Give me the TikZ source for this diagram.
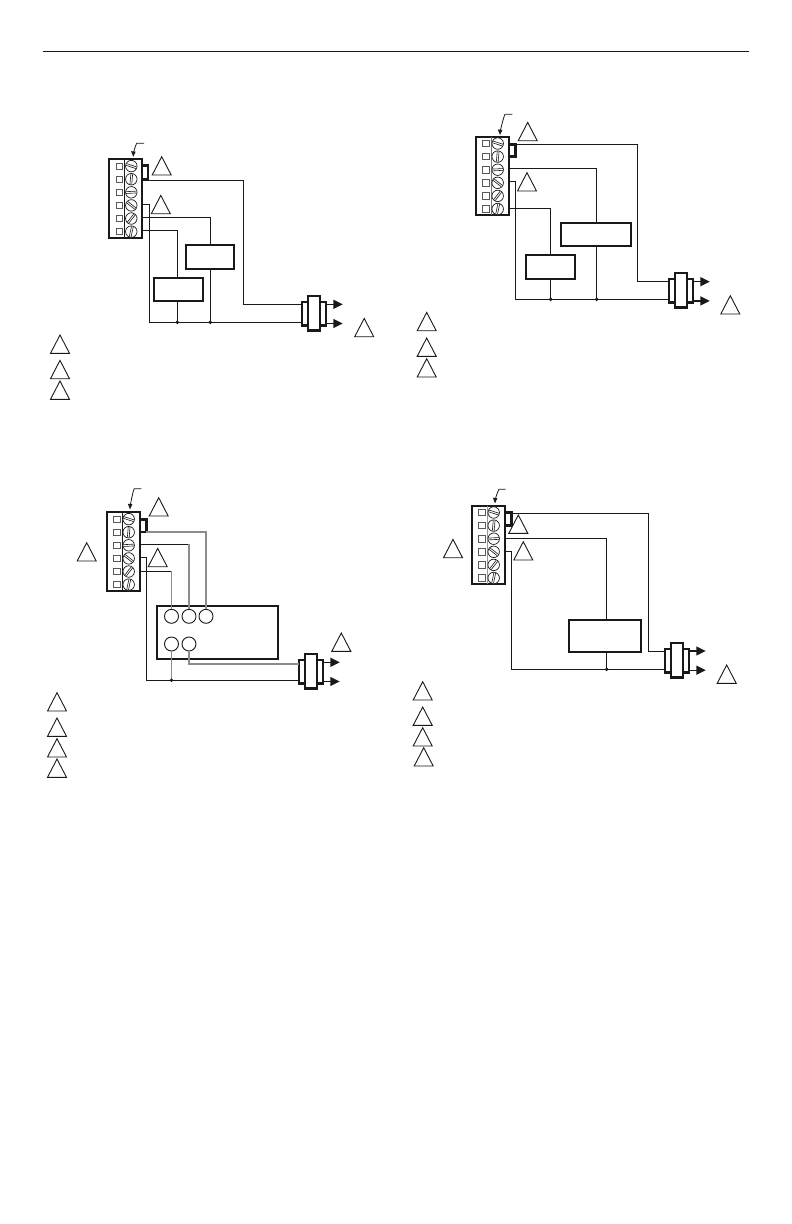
\documentclass[tikz,border=0pt]{standalone}
\usetikzlibrary{arrows.meta}
\definecolor{ink}{gray}{0.1}
\definecolor{wiregray}{gray}{0.55}
\tikzset{
  x=1bp,y=-1bp,
  thinline/.style={draw=ink,line width=1bp},
  grayline/.style={draw=wiregray,line width=1.1bp},
  heavy/.style={draw=ink,line width=2bp},
  plugline/.style={draw=ink,line width=2.4bp},
  jumper/.style={draw=ink,line width=2.6bp},
  relay/.style={draw=ink,line width=2bp,fill=white,rectangle,inner sep=0pt,outer sep=0pt,anchor=north west},
  smallsq/.style={draw=black!65,line width=0.8bp,fill=white,rectangle,inner sep=0pt,minimum size=6.4bp},
  screwhead/.style={draw=ink,line width=0.7bp,fill=white,circle,inner sep=0pt,minimum size=11.5bp},
  portcircle/.style={draw=ink,line width=0.9bp,fill=white,circle,inner sep=0pt,minimum size=14bp},
  junction/.style={fill=ink,circle,inner sep=0pt,minimum size=3.8bp},
  tri/.style={draw=ink,line width=0.9bp,line join=miter},
  tip/.style={fill=ink,draw=none},
}
% one screw: centre node name, x, y, slot angle
\newcommand{\screw}[4]{%
  \node[screwhead] (#1) at (#2,#3) {};
  \begin{scope}[shift={(#2,#3)},rotate=#4]
    \draw[ink,line width=0.6bp] (-5.2,-0.9) -- (5.2,-0.9) (-5.2,0.9) -- (5.2,0.9);
  \end{scope}}
% terminal block: prefix, x left, y top, colour of divider
\newcommand{\tblock}[4]{%
  \draw[heavy,fill=white] (#2,#3) rectangle ++(33,78.7);
  \draw[draw=#4,line width=0.9bp] (#2+15.3,#3) -- ++(0,78.7);
  \foreach \i/\ang in {0/-18,1/85,2/3,3/-38,4/52,5/78}{
    \pgfmathsetmacro{\sy}{#3+6.8+\i*13.1}
    \pgfmathsetmacro{\sx}{#2+22}
    \pgfmathsetmacro{\qx}{#2+10.2}
    \pgfmathtruncatemacro{\n}{\i+1}
    \node[smallsq] (#1q\n) at (\qx,\sy) {};
    \screw{#1s\n}{\sx}{\sy}{\ang}
  }}
% triangle callout: centre x, base y
\newcommand{\tricall}[2]{%
  \draw[tri] (#1-9.5,#2) -- (#1,#2-18.3) -- (#1+9.5,#2) -- cycle;}
% plug: prefix, left x, top y of inner, upper arrow y
\newcommand{\plug}[4]{%
  \draw[thinline,line width=1.3bp] (#2+24.3,#4) -- (#2+32,#4);
  \draw[thinline,line width=1.3bp] (#2+24.3,#4+19.2) -- (#2+32,#4+19.2);
  \draw[plugline,fill=white] (#2,#3) rectangle ++(24.3,23.6);
  \draw[plugline,fill=white] (#2+6,#3-6) rectangle ++(12.4,34.6);
  \coordinate (#1in1) at (#2,#3+2.6);
  \coordinate (#1in2) at (#2,#3+20.6);
  \fill[tip] (#2+31.6,#4-4.7) -- (#2+41,#4) -- (#2+31.6,#4+4.7) -- cycle;
  \fill[tip] (#2+31.6,#4+14.5) -- (#2+41,#4+19.2) -- (#2+31.6,#4+23.9) -- cycle;}
% pointer arrow above block
\newcommand{\pointer}[6]{%
  \draw[thinline,line width=0.8bp] (#1,#2) -- (#3,#2) .. controls (#3-1.6,#2+3) and (#5+0.8,#6-6) .. (#5,#6-3);
  \fill[tip] (#5,#6) -- (#5-2.2,#6-5.6) -- (#5+2.4,#6-5) -- cycle;}
\begin{document}
\begin{tikzpicture}
\useasboundingbox (0,0) rectangle (792,1224);
\fill[white] (0,0) rectangle (792,1224);
% header rule
\draw[ink,line width=1.2bp] (43,51.3) -- (749,51.3);

% ---------- Diagram 1 ----------
\tblock{a}{109.3}{159.3}{ink}
\draw[jumper] (142.3,165.7) -- (148,165.7) -- (148,179) -- (142.3,179);
\coordinate (aw2) at (142.3,180);
\coordinate (aw4) at (142.3,204.7);
\coordinate (aw5) at (142.3,217.5);
\coordinate (aw6) at (142.3,230);
\coordinate (ac1) at (243.3,180);
\coordinate (ac2) at (149.7,204.7);
\plug{ap}{301.7}{301.7}{304.3}
\node[relay,minimum width=48.6bp,minimum height=24bp] (ar1) at (185.7,245) {};
\node[relay,minimum width=49bp,minimum height=23.3bp] (ar2) at (153.7,277.7) {};
\coordinate (aj1) at (177.3,322.3);
\coordinate (aj2) at (210.3,322.3);
\draw[thinline] (aw2) -- (ac1) |- (apin1);
\draw[thinline] (aw4) -- (ac2) |- (apin2);
\draw[thinline] (aw5) -| (ar1.north -| aj2);
\draw[thinline] (ar1.south -| aj2) -- (aj2);
\draw[thinline] (aw6) -| (ar2.north -| aj1);
\draw[thinline] (ar2.south -| aj1) -- (aj1);
\node[junction] at (aj1) {};
\node[junction] at (aj2) {};
\pointer{144}{143.3}{136.7}{143.3}{133.3}{156.7}
\tricall{161.7}{175}\tricall{160.8}{213.7}\tricall{364.2}{336.7}
\tricall{60}{353.3}\tricall{60}{378.7}\tricall{60}{399.3}

% ---------- Diagram 2 ----------
\tblock{b}{475.7}{136.7}{black!55}
\draw[jumper] (508.3,144.3) -- (515.3,144.3) -- (515.3,156.7) -- (508.3,156.7);
\coordinate (bc1) at (637.3,144.3);
\coordinate (bc2) at (515.3,181.3);
\plug{bp}{668.7}{278.7}{281.7}
\node[relay,minimum width=70bp,minimum height=23.6bp] (br1) at (560.7,222.7) {};
\node[relay,minimum width=49bp,minimum height=24.3bp] (br2) at (526.3,254.7) {};
\coordinate (bj1) at (550.7,299.3);
\coordinate (bj2) at (596.7,299.3);
\coordinate (bw1) at (515.3,144.3);
\coordinate (bw3) at (508.3,168);
\coordinate (bw4) at (508.3,181.3);
\coordinate (bw6) at (508.3,208.3);
\draw[thinline] (bw1) -- (bc1) |- (bpin1);
\draw[thinline] (bw4) -- (bc2) |- (bpin2);
\draw[thinline] (bw3) -| (br1.north -| bj2);
\draw[thinline] (br1.south -| bj2) -- (bj2);
\draw[thinline] (bw6) -| (br2.north -| bj1);
\draw[thinline] (br2.south -| bj1) -- (bj1);
\node[junction] at (bj1) {};
\node[junction] at (bj2) {};
\pointer{512.3}{114.3}{505}{114.3}{500}{135}
\tricall{527.7}{140.7}\tricall{527}{191}\tricall{730.3}{314}
\tricall{426.7}{330.7}\tricall{426.7}{356.3}\tricall{426.7}{377}

% ---------- Diagram 3 ----------
\tblock{c}{106.7}{512.3}{ink}
\draw[jumper] (139.3,519.3) -- (146.3,519.3) -- (146.3,532) -- (139.3,532);
\node[relay,minimum width=121.6bp,minimum height=53bp] (cbox) at (156.7,606) {};
\node[portcircle] (cp1) at (171.5,616.3) {};
\node[portcircle] (cp2) at (189,616.3) {};
\node[portcircle] (cp3) at (206,616.3) {};
\node[portcircle] (cp4) at (171.5,644) {};
\node[portcircle] (cp5) at (189,644) {};
\plug{cp}{298.7}{660}{662.3}
\coordinate (cpg) at (298.7,664);
\coordinate (cj) at (171.5,680.3);
\coordinate (cw2) at (146.3,532);
\coordinate (cw3) at (139.3,544.3);
\coordinate (cw4) at (139.3,557.3);
\coordinate (cw5) at (139.3,571.3);
\coordinate (cc3) at (189,544.3);
\coordinate (cc5) at (171.5,571.3);
\coordinate (cc4) at (146.3,557.3);
\draw[grayline] (cw2) -| (cp3);
\draw[thinline] (cw3) -- (cc3);
\draw[grayline] (cc3) -- (cp2);
\draw[thinline] (cw5) -- (cc5);
\draw[grayline] (cc5) -- (cp1);
\draw[thinline] (cw4) -- (cc4) |- (cpin2);
\draw[grayline] (cp4) -- (cj);
\draw[grayline] (cp5) |- (cpg);
\node[junction] at (cj) {};
\pointer{141.3}{488.7}{134.3}{488.7}{130}{509.3}
\tricall{158.7}{516}\tricall{86.7}{561}\tricall{157.7}{566.7}\tricall{341.3}{651.3}
\tricall{57}{711}\tricall{57}{736.3}\tricall{57}{757}\tricall{57}{777.3}

% ---------- Diagram 4 ----------
\tblock{d}{471.7}{505.7}{black!40}
\draw[jumper] (504.3,512.7) -- (511.3,512.7) -- (511.3,525.7) -- (504.3,525.7);
\node[relay,minimum width=72.6bp,minimum height=32bp] (dr) at (568.7,620) {};
\plug{dp}{664.7}{648.7}{651}
\coordinate (dj) at (606.7,669.3);
\coordinate (dw1) at (504.3,513.3);
\coordinate (dw3) at (504.3,538.7);
\coordinate (dw4) at (504.3,551.3);
\coordinate (dc1) at (648.3,513.3);
\coordinate (dc4) at (511.3,551.3);
\draw[thinline] (dw1) -- (dc1) |- (dpin1);
\draw[thinline] (dw3) -| (dr.north -| dj);
\draw[thinline] (dr.south -| dj) -- (dj);
\draw[thinline] (dw4) -- (dc4) |- (dpin2);
\node[junction] at (dj) {};
\pointer{505.7}{489.3}{499}{489.3}{495}{503.3}
\tricall{518.3}{533.3}\tricall{523.3}{560}\tricall{453}{557.7}\tricall{726.7}{683.3}
\tricall{422.7}{700}\tricall{422.7}{725.3}\tricall{422.7}{746}\tricall{423.7}{766}
\end{tikzpicture}
\end{document}
